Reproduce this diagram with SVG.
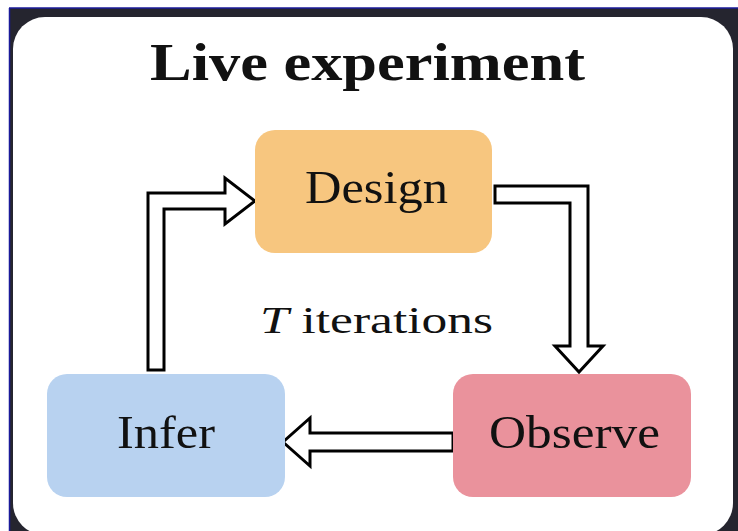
<svg xmlns="http://www.w3.org/2000/svg" width="738" height="531" viewBox="0 0 738 531">
<style>
.lbl{font-family:"Liberation Serif","DejaVu Serif",serif;font-size:46px;fill:#111;text-anchor:start}
.arrow{fill:#fff;stroke:#000;stroke-width:3;stroke-linejoin:miter}
</style>
<rect x="0" y="0" width="738" height="531" fill="#ffffff"/>
<rect x="9" y="8" width="729" height="523" fill="#25252f"/>
<line x1="9" y1="8" x2="738" y2="8" stroke="#1a1a9a" stroke-width="1.5"/>
<line x1="9.5" y1="8" x2="9.5" y2="531" stroke="#1a1a9a" stroke-width="1.5"/>
<rect x="13" y="17" width="720" height="518" rx="32" ry="32" fill="#ffffff"/>
<text x="150" y="80" font-family="Liberation Serif,DejaVu Serif,serif" font-weight="bold" font-size="52" fill="#111" textLength="435" lengthAdjust="spacingAndGlyphs">Live experiment</text>
<g id="connectors">
<path class="arrow" d="M148,370 L148,193 L225,193 L225,178 L255,201 L225,224 L225,209 L164,209 L164,370 Z"/>
<path class="arrow" d="M495,186 L588,186 L588,346 L603,346 L579,372 L555,346 L570,346 L570,203 L495,203 Z"/>
<path class="arrow" d="M453,433 L310,433 L310,418 L283,442 L310,466 L310,451 L453,451 Z"/>
</g>
<g id="design">
<rect x="255" y="130" width="237" height="123" rx="20" ry="20" fill="#f7c67f"/>
<text class="lbl" x="305" y="203" textLength="143" lengthAdjust="spacingAndGlyphs">Design</text>
</g>
<g id="infer">
<rect x="47" y="374" width="238" height="123" rx="20" ry="20" fill="#b8d2f0"/>
<text class="lbl" x="117" y="448" textLength="98" lengthAdjust="spacingAndGlyphs">Infer</text>
</g>
<g id="observe">
<rect x="453" y="374" width="238" height="123" rx="20" ry="20" fill="#ea929c"/>
<text class="lbl" x="489" y="448" textLength="171" lengthAdjust="spacingAndGlyphs">Observe</text>
</g>
<g id="iterations">
<text x="260" y="333" font-family="Liberation Serif,DejaVu Serif,serif" font-size="38" fill="#111" textLength="233" lengthAdjust="spacingAndGlyphs"><tspan font-style="italic">T</tspan> iterations</text>
</g>
</svg>
